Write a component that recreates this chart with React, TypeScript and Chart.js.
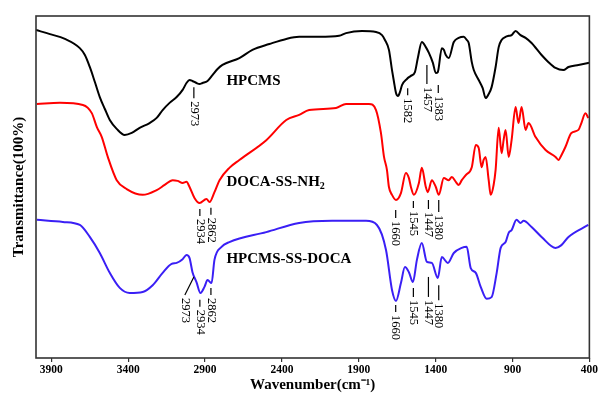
import React, { useEffect, useRef } from "react";
import { Chart, registerables } from "chart.js";

Chart.register(...registerables);

// ---- data (wavenumber cm-1 / transmittance, arbitrary offset units) ----
const xTicks = [3900, 3400, 2900, 2400, 1900, 1400, 900, 400];

const hpcmsWn = [4000, 3909, 3812, 3715, 3682, 3650, 3617, 3585, 3552, 3520, 3475, 3423, 3377, 3326, 3261, 3215, 3176, 3131, 3085, 3046, 3021, 3001, 2982, 2956, 2936, 2917, 2884, 2852, 2819, 2787, 2677, 2592, 2482, 2372, 2288, 2158, 2028, 1983, 1879, 1788, 1749, 1730, 1704, 1684, 1671, 1658, 1645, 1632, 1619, 1587, 1561, 1535, 1516, 1490, 1464, 1444, 1418, 1399, 1386, 1360, 1347, 1334, 1315, 1282, 1250, 1217, 1198, 1185, 1165, 1152, 1120, 1094, 1075, 1055, 1036, 1010, 990, 971, 945, 925, 906, 880, 848, 815, 776, 711, 666, 620, 569, 536, 471, 400];
const hpcmsT = [95.9, 94.7, 93.3, 90.6, 88.6, 85.1, 80.7, 76.3, 72.8, 69.6, 67.0, 65.2, 65.8, 67.3, 68.7, 70.2, 72.5, 74.6, 76.3, 78.4, 80.4, 81.3, 81.0, 80.4, 80.1, 80.4, 81.0, 82.7, 84.5, 85.7, 87.7, 90.1, 91.8, 93.3, 93.9, 93.9, 94.2, 95.0, 95.6, 95.3, 94.4, 93.0, 90.1, 84.2, 80.7, 77.5, 76.6, 77.8, 79.8, 81.6, 82.5, 83.6, 87.7, 92.4, 90.9, 89.2, 86.3, 83.3, 83.6, 90.6, 90.1, 88.6, 87.7, 92.4, 93.6, 93.9, 93.0, 92.1, 86.5, 84.2, 81.3, 78.9, 76.0, 77.2, 79.2, 85.1, 90.9, 93.0, 93.9, 94.2, 94.4, 95.6, 94.4, 93.6, 92.1, 88.6, 86.5, 84.8, 84.2, 85.1, 85.7, 86.3];

const docaWn = [3994, 3844, 3695, 3637, 3604, 3572, 3533, 3475, 3410, 3306, 3215, 3163, 3111, 3079, 3046, 3021, 3001, 2969, 2936, 2891, 2871, 2839, 2806, 2742, 2677, 2502, 2372, 2288, 2223, 2048, 1983, 1834, 1788, 1756, 1736, 1717, 1704, 1684, 1658, 1626, 1594, 1574, 1561, 1542, 1509, 1490, 1464, 1451, 1425, 1399, 1380, 1347, 1315, 1295, 1269, 1250, 1230, 1204, 1165, 1139, 1120, 1101, 1088, 1075, 1055, 1042, 1023, 1010, 990, 971, 958, 945, 925, 906, 880, 861, 841, 815, 796, 750, 685, 620, 601, 582, 556, 517, 471, 452, 426, 407];
const docaT = [74.3, 74.6, 74.0, 71.6, 67.5, 64.6, 58.8, 52.0, 49.4, 47.7, 49.1, 50.6, 52.0, 51.8, 51.2, 51.5, 50.0, 46.8, 45.3, 46.5, 45.6, 48.5, 52.0, 55.6, 57.9, 63.7, 69.6, 71.1, 72.5, 73.1, 74.3, 74.3, 72.5, 65.8, 58.8, 55.0, 50.0, 47.7, 46.2, 48.2, 54.1, 52.6, 50.0, 47.7, 51.2, 55.6, 50.0, 48.5, 52.0, 50.0, 47.7, 52.6, 52.0, 52.9, 51.5, 50.6, 52.0, 53.5, 55.8, 62.3, 61.4, 55.8, 57.9, 58.8, 52.0, 47.7, 50.6, 55.0, 67.3, 59.9, 63.7, 66.7, 58.8, 63.7, 73.4, 68.7, 73.4, 66.7, 68.7, 64.6, 60.8, 58.8, 57.9, 59.3, 61.7, 65.8, 66.7, 68.7, 71.6, 70.2];

const conjWn = [3994, 3825, 3715, 3650, 3585, 3520, 3455, 3390, 3306, 3241, 3176, 3118, 3085, 3046, 3021, 3001, 2982, 2956, 2930, 2904, 2884, 2858, 2839, 2793, 2742, 2502, 2288, 2074, 1853, 1782, 1723, 1684, 1658, 1626, 1600, 1574, 1548, 1522, 1490, 1457, 1425, 1386, 1360, 1321, 1282, 1230, 1198, 1172, 1139, 1107, 1068, 1036, 1003, 977, 945, 925, 906, 874, 848, 828, 776, 711, 620, 582, 536, 407];
const conjT = [40.4, 39.8, 38.9, 35.4, 30.7, 24.9, 20.5, 19.0, 19.3, 21.3, 24.9, 27.5, 27.8, 28.9, 30.1, 29.2, 25.1, 22.2, 19.0, 20.8, 22.8, 21.9, 28.7, 32.5, 33.9, 36.8, 39.5, 40.1, 40.1, 38.9, 31.6, 19.9, 16.7, 21.9, 26.6, 25.1, 22.2, 28.7, 33.6, 28.1, 27.8, 23.4, 29.5, 27.8, 30.7, 32.2, 32.5, 26.3, 24.9, 20.8, 17.3, 17.8, 24.9, 32.2, 33.9, 36.6, 37.4, 40.4, 39.5, 40.1, 38.3, 35.4, 32.2, 33.0, 35.4, 38.9];

const seriesNames = ["HPCMS", "DOCA-SS-NH", "HPCMS-SS-DOCA"];
const seriesColors = ["#000000", "#ff0000", "#3a1ff5"];
const seriesLabelWn = [2761, 2761, 2761];
const seriesLabelT = [81.0, 51.3, 28.9];

// peak labels: wavenumber, transmittance where the marker dash starts, dash length (px)
const hpcmsPeaks = [2973, 1582, 1457, 1383];
const hpcmsPeakT = [79.2, 78.9, 85.7, 79.8];
const hpcmsPeakLen = [11, 7, 19, 8];

const docaPeaks = [2934, 2862, 1660, 1545, 1447, 1380];
const docaPeakT = [43.6, 43.9, 43.3, 45.9, 46.2, 46.2];
const docaPeakLen = [7, 7, 8, 7, 9, 12];

const conjPeaks = [2973, 2934, 2862, 1660, 1545, 1447, 1380];
const conjPeakT = [23.7, 17.0, 20.5, 15.5, 20.5, 23.7, 21.3];
const conjPeakLen = [18, 7, 7, 7, 9, 20, 15];

const FONT = '"Liberation Serif", "Times New Roman", serif';

function pts(wn: number[], t: number[]) {
  return wn.map((w, i) => ({ x: w, y: t[i] }));
}

const decorPlugin = {
  id: "decor",
  afterDatasetsDraw(chart: any) {
    const { ctx, scales } = chart;
    const xs = scales.x;
    const ys = scales.y;
    ctx.save();
    const groups = [
      { p: hpcmsPeaks, t: hpcmsPeakT, l: hpcmsPeakLen, slant: -1 },
      { p: docaPeaks, t: docaPeakT, l: docaPeakLen, slant: -1 },
      { p: conjPeaks, t: conjPeakT, l: conjPeakLen, slant: 0 },
    ];
    ctx.strokeStyle = "#000";
    ctx.fillStyle = "#000";
    ctx.lineWidth = 1.2;
    ctx.font = `12.5px ${FONT}`;
    ctx.textBaseline = "middle";
    ctx.textAlign = "left";
    groups.forEach((g) => {
      g.p.forEach((wn, i) => {
        const px = xs.getPixelForValue(wn);
        const py = ys.getPixelForValue(g.t[i]);
        let ex = px;
        const ey = py + g.l[i];
        if (i === g.slant) ex = px - 9;
        ctx.beginPath();
        ctx.moveTo(px, py);
        ctx.lineTo(ex, ey);
        ctx.stroke();
        ctx.save();
        ctx.translate(ex, ey + 3);
        ctx.rotate(Math.PI / 2);
        ctx.fillText(String(wn), 0, 0);
        ctx.restore();
      });
    });
    ctx.font = `bold 15px ${FONT}`;
    seriesNames.forEach((name, i) => {
      const px = xs.getPixelForValue(seriesLabelWn[i]);
      const py = ys.getPixelForValue(seriesLabelT[i]);
      ctx.fillText(name, px, py);
      if (i === 1) {
        const w = ctx.measureText(name).width;
        ctx.font = `bold 10px ${FONT}`;
        ctx.fillText("2", px + w, py + 4);
        ctx.font = `bold 15px ${FONT}`;
      }
    });
    ctx.restore();
  },
  afterDraw(chart: any) {
    const { ctx, chartArea } = chart;
    ctx.save();
    ctx.strokeStyle = "#333";
    ctx.lineWidth = 1.6;
    ctx.strokeRect(chartArea.left, chartArea.top, chartArea.right - chartArea.left, chartArea.bottom - chartArea.top);
    ctx.restore();
  },
};

export default function App() {
  const ref = useRef<HTMLCanvasElement | null>(null);
  useEffect(() => {
    document.body.style.margin = "0";
    if (!ref.current) return;
    const mk = (i: number, data: any[]) => ({
      label: seriesNames[i],
      data,
      borderColor: seriesColors[i],
      backgroundColor: seriesColors[i],
      borderWidth: 2,
      pointRadius: 0,
      cubicInterpolationMode: "monotone" as const,
      fill: false,
    });
    const chart = new Chart(ref.current, {
      type: "line",
      data: {
        datasets: [
          mk(0, pts(hpcmsWn, hpcmsT)),
          mk(1, pts(docaWn, docaT)),
          mk(2, pts(conjWn, conjT)),
        ],
      },
      options: {
        responsive: false,
        animation: false,
        devicePixelRatio: 1,
        layout: { padding: { top: 16, right: 8, left: 0, bottom: 0 } },
        plugins: { legend: { display: false }, tooltip: { enabled: false } },
        scales: {
          x: {
            type: "linear",
            min: 400,
            max: 4000,
            reverse: true,
            afterBuildTicks: (s: any) => {
              s.ticks = xTicks.map((v) => ({ value: v }));
            },
            afterFit: (s: any) => {
              s.height = 40;
            },
            border: { display: false },
            grid: { display: true, drawOnChartArea: false, drawTicks: true, tickLength: 4, color: "#333", lineWidth: 1.2 },
            ticks: {
              autoSkip: false,
              maxRotation: 0,
              padding: 1,
              color: "#000",
              font: { family: FONT, size: 11.5, weight: "bold" },
              callback: (v: any) => String(v),
            },
            title: {
              display: true,
              text: "Wavenumber(cm\u207B\u00B9)",
              color: "#000",
              font: { family: FONT, size: 15, weight: "bold" },
              padding: { top: 0, bottom: 4 },
            },
          },
          y: {
            type: "linear",
            min: 0,
            max: 100,
            afterFit: (s: any) => {
              s.width = 36;
            },
            border: { display: false },
            grid: { display: false },
            ticks: { display: false },
            title: {
              display: true,
              text: "Transmittance(100%)",
              color: "#000",
              font: { family: FONT, size: 15, weight: "bold" },
              padding: { top: 10, bottom: 0 },
            },
          },
        },
      },
      plugins: [decorPlugin],
    });
    return () => chart.destroy();
  }, []);
  return (
    <div style={{ width: 599, height: 398, background: "#fff" }}>
      <canvas ref={ref} width={599} height={398} />
    </div>
  );
}
